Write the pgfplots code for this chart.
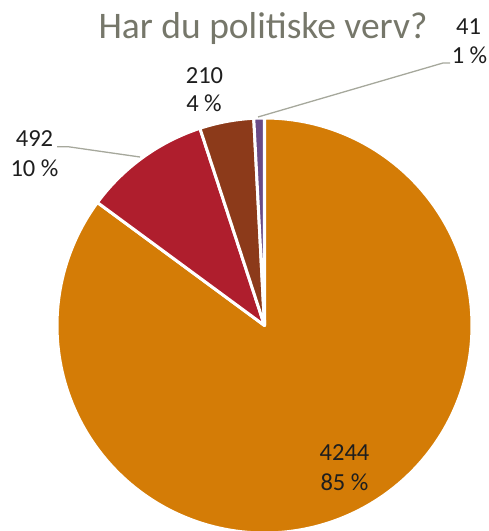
\documentclass[border=0pt]{standalone}
\usepackage{fontspec}
\setmainfont{Carlito}
\usepackage{pgfplots}
\usepackage{pgfplotstable}
\pgfplotsset{compat=1.18}
\definecolor{sOrange}{HTML}{D47C06}
\definecolor{sRed}{HTML}{AF1E2D}
\definecolor{sBrown}{HTML}{8C3A1A}
\definecolor{sPurple}{HTML}{6A4B86}
\definecolor{titlegray}{HTML}{76776A}
\definecolor{leadergray}{HTML}{A6A89C}
\definecolor{labeltext}{HTML}{1E1E1E}
\pgfplotstableread{
label value
A 4244
B 492
C 210
D 41
}\pietable
\begin{document}
\pgfplotstablegetelem{0}{value}\of\pietable\edef\va{\pgfplotsretval}%
\pgfplotstablegetelem{1}{value}\of\pietable\edef\vb{\pgfplotsretval}%
\pgfplotstablegetelem{2}{value}\of\pietable\edef\vc{\pgfplotsretval}%
\pgfplotstablegetelem{3}{value}\of\pietable\edef\vd{\pgfplotsretval}%
\pgfmathsetmacro\tot{\va+\vb+\vc+\vd}%
\pgfmathsetmacro\fa{\va/\tot}%
\pgfmathsetmacro\fb{\vb/\tot}%
\pgfmathsetmacro\fc{\vc/\tot}%
\pgfmathsetmacro\fd{\vd/\tot}%
\pgfmathsetmacro\aA{90-360*\fa}%
\pgfmathsetmacro\aB{\aA-360*\fb}%
\pgfmathsetmacro\aC{\aB-360*\fc}%
\pgfmathsetmacro\aD{\aC-360*\fd}%
\begin{tikzpicture}
\useasboundingbox (0,0) rectangle (489pt,531pt);
\begin{axis}[
  at={(0,0)}, anchor=south west,
  scale only axis, width=489pt, height=531pt,
  xmin=0, xmax=489, ymin=0, ymax=531,
  hide axis, clip=true,
  every axis plot/.append style={no markers, line join=round},
]
\addplot[fill=sOrange, draw=white, line width=3pt, domain=\aA:90, samples=200, variable=\t]
  ({264.5+207.5*cos(\t)}, {205.5+207.5*sin(\t)}) -- (axis cs:264.5,205.5) -- cycle;
\addplot[fill=sRed, draw=white, line width=3pt, domain=\aB:\aA, samples=60, variable=\t]
  ({264.5+207.5*cos(\t)}, {205.5+207.5*sin(\t)}) -- (axis cs:264.5,205.5) -- cycle;
\addplot[fill=sBrown, draw=white, line width=3pt, domain=\aC:\aB, samples=40, variable=\t]
  ({264.5+207.5*cos(\t)}, {205.5+207.5*sin(\t)}) -- (axis cs:264.5,205.5) -- cycle;
\addplot[fill=sPurple, draw=white, line width=3pt, domain=\aD:\aC, samples=10, variable=\t]
  ({264.5+207.5*cos(\t)}, {205.5+207.5*sin(\t)}) -- (axis cs:264.5,205.5) -- cycle;
% leader lines
\addplot[draw=leadergray, line width=1.3pt] coordinates {(57,384.3) (68,384.3) (140,374)};
\addplot[draw=leadergray, line width=1.3pt] coordinates {(258,414) (443,468) (450,468)};
% title
\node[anchor=base, text=titlegray, font=\fontsize{37.5}{44}\selectfont] at (axis cs:263,492) {Har du politiske verv?};
% labels
\begin{scope}[every node/.style={anchor=base, text=labeltext, font=\fontsize{24.5}{29}\selectfont}]
\node at (axis cs:344.5,70) {4244};
\node at (axis cs:344.5,40.5) {85 \%};
\node at (axis cs:34.5,384.3) {492};
\node at (axis cs:34.5,354.3) {10 \%};
\node at (axis cs:204.5,447.7) {210};
\node at (axis cs:204,419.3) {4 \%};
\node at (axis cs:468.5,496) {41};
\node at (axis cs:469.5,467.7) {1 \%};
\end{scope}
\end{axis}
\end{tikzpicture}
\end{document}
